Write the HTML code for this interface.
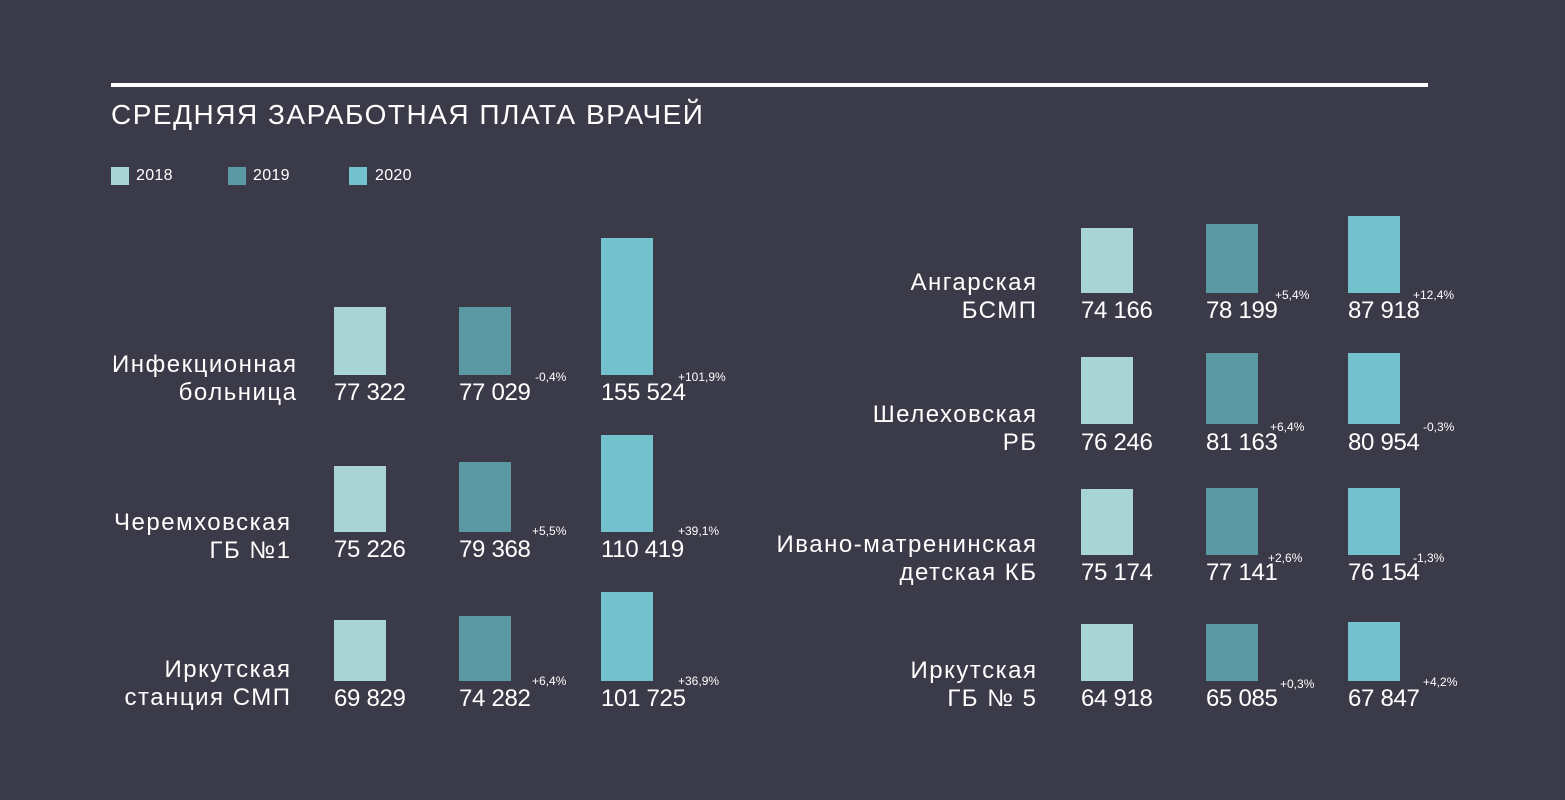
<!DOCTYPE html><html><head><meta charset="utf-8"><style>
body{margin:0;width:1565px;height:800px;background:#3a3a48;position:relative;overflow:hidden;font-family:"Liberation Sans",sans-serif;color:#fff}
div{position:absolute}
.b{width:52px}.c1{background:#a8d4d6}.c2{background:#5a99a3}.c3{background:#73c1cc}
.n{font-size:24px;line-height:24px;white-space:nowrap;letter-spacing:-0.3px}
.p{font-size:12px;line-height:12px;white-space:nowrap}
.l{font-size:24px;line-height:28px;text-align:right;white-space:nowrap;width:400px;letter-spacing:1.5px;margin-left:1.5px}
.lg{font-size:16px;line-height:18px;letter-spacing:0.3px}
</style></head><body>
<div style="left:111px;top:83px;width:1317px;height:4px;background:#fff"></div>
<div style="left:111px;top:98px;font-size:28px;line-height:34px;letter-spacing:1.5px">СРЕДНЯЯ ЗАРАБОТНАЯ ПЛАТА ВРАЧЕЙ</div>
<div class="c1" style="left:111px;top:167px;width:18px;height:18px"></div><div class="lg" style="left:136px;top:167px">2018</div>
<div class="c2" style="left:228px;top:167px;width:18px;height:18px"></div><div class="lg" style="left:253px;top:167px">2019</div>
<div class="c3" style="left:349px;top:167px;width:18px;height:18px"></div><div class="lg" style="left:375px;top:167px">2020</div>

<div class="l" style="left:-104px;top:351px">Инфекционная<br>больница</div>
<div class="b c1" style="left:334px;top:307px;height:68px"></div>
<div class="b c2" style="left:459px;top:307px;height:68px"></div>
<div class="b c3" style="left:601px;top:238px;height:137px"></div>
<div class="n" style="left:334px;top:381px">77 322</div>
<div class="n" style="left:459px;top:381px">77 029</div>
<div class="n" style="left:601px;top:381px">155 524</div>
<div class="p" style="left:535px;top:371px">-0,4%</div>
<div class="p" style="left:678px;top:371px">+101,9%</div>

<div class="l" style="left:-110px;top:509px">Черемховская<br>ГБ №1</div>
<div class="b c1" style="left:334px;top:466px;height:66px"></div>
<div class="b c2" style="left:459px;top:462px;height:70px"></div>
<div class="b c3" style="left:601px;top:435px;height:97px"></div>
<div class="n" style="left:334px;top:538px">75 226</div>
<div class="n" style="left:459px;top:538px">79 368</div>
<div class="n" style="left:601px;top:538px">110 419</div>
<div class="p" style="left:532px;top:525px">+5,5%</div>
<div class="p" style="left:678px;top:525px">+39,1%</div>

<div class="l" style="left:-110px;top:656px">Иркутская<br>станция СМП</div>
<div class="b c1" style="left:334px;top:620px;height:61px"></div>
<div class="b c2" style="left:459px;top:616px;height:65px"></div>
<div class="b c3" style="left:601px;top:592px;height:89px"></div>
<div class="n" style="left:334px;top:687px">69 829</div>
<div class="n" style="left:459px;top:687px">74 282</div>
<div class="n" style="left:601px;top:687px">101 725</div>
<div class="p" style="left:532px;top:675px">+6,4%</div>
<div class="p" style="left:678px;top:675px">+36,9%</div>

<div class="l" style="left:636px;top:269px">Ангарская<br>БСМП</div>
<div class="b c1" style="left:1081px;top:228px;height:65px"></div>
<div class="b c2" style="left:1206px;top:224px;height:69px"></div>
<div class="b c3" style="left:1348px;top:216px;height:77px"></div>
<div class="n" style="left:1081px;top:299px">74 166</div>
<div class="n" style="left:1206px;top:299px">78 199</div>
<div class="n" style="left:1348px;top:299px">87 918</div>
<div class="p" style="left:1275px;top:289px">+5,4%</div>
<div class="p" style="left:1413px;top:289px">+12,4%</div>

<div class="l" style="left:636px;top:401px">Шелеховская<br>РБ</div>
<div class="b c1" style="left:1081px;top:357px;height:67px"></div>
<div class="b c2" style="left:1206px;top:353px;height:71px"></div>
<div class="b c3" style="left:1348px;top:353px;height:71px"></div>
<div class="n" style="left:1081px;top:431px">76 246</div>
<div class="n" style="left:1206px;top:431px">81 163</div>
<div class="n" style="left:1348px;top:431px">80 954</div>
<div class="p" style="left:1270px;top:421px">+6,4%</div>
<div class="p" style="left:1423px;top:421px">-0,3%</div>

<div class="l" style="left:636px;top:531px">Ивано-матренинская<br>детская КБ</div>
<div class="b c1" style="left:1081px;top:489px;height:66px"></div>
<div class="b c2" style="left:1206px;top:488px;height:67px"></div>
<div class="b c3" style="left:1348px;top:488px;height:67px"></div>
<div class="n" style="left:1081px;top:561px">75 174</div>
<div class="n" style="left:1206px;top:561px">77 141</div>
<div class="n" style="left:1348px;top:561px">76 154</div>
<div class="p" style="left:1268px;top:552px">+2,6%</div>
<div class="p" style="left:1413px;top:552px">-1,3%</div>

<div class="l" style="left:636px;top:657px">Иркутская<br>ГБ № 5</div>
<div class="b c1" style="left:1081px;top:624px;height:57px"></div>
<div class="b c2" style="left:1206px;top:624px;height:57px"></div>
<div class="b c3" style="left:1348px;top:622px;height:59px"></div>
<div class="n" style="left:1081px;top:687px">64 918</div>
<div class="n" style="left:1206px;top:687px">65 085</div>
<div class="n" style="left:1348px;top:687px">67 847</div>
<div class="p" style="left:1280px;top:678px">+0,3%</div>
<div class="p" style="left:1423px;top:676px">+4,2%</div>
</body></html>
